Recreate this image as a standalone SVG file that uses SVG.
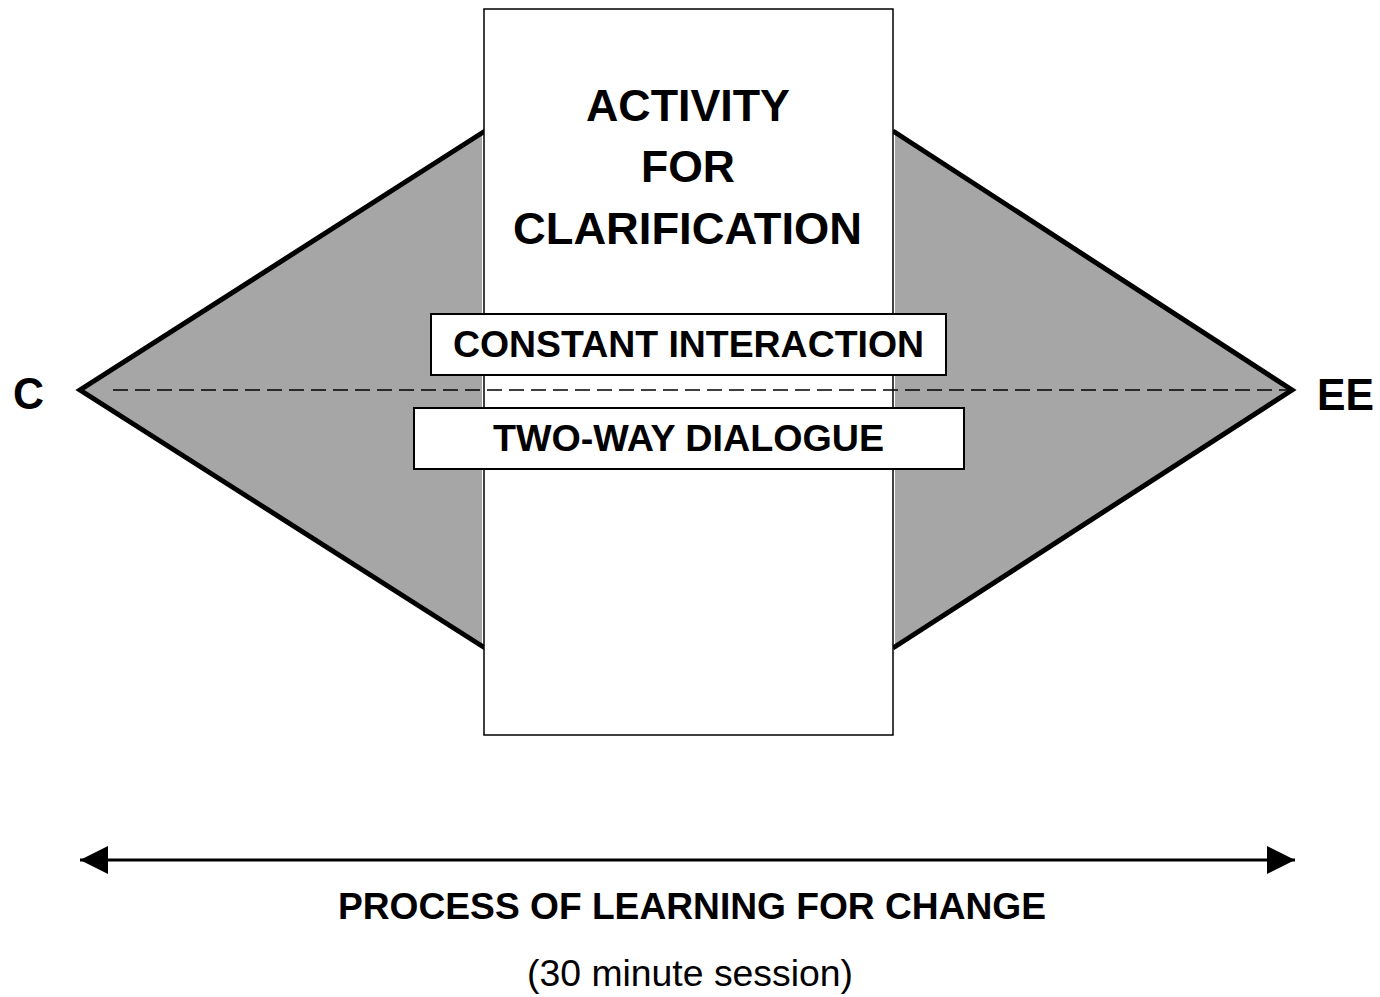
<svg xmlns="http://www.w3.org/2000/svg" width="1380" height="997" viewBox="0 0 1380 997">
<defs>
<style>
.b{font-family:"Liberation Sans",Arial,sans-serif;font-weight:bold;fill:#000}
.r{font-family:"Liberation Sans",Arial,sans-serif;fill:#000}
.edge{stroke:#000;stroke-width:5;stroke-linecap:butt;fill:none}
.box{fill:#fff;stroke:#000;stroke-width:2}
</style>
<marker id="ah" viewBox="0 0 28 28" refX="28" refY="14" markerWidth="28" markerHeight="28" markerUnits="userSpaceOnUse" orient="auto-start-reverse">
<path d="M0,0 L28,14 L0,28 Z" fill="#000"/>
</marker>
</defs>
<rect width="1380" height="997" fill="#fff"/>
<g id="left-triangle">
<polygon points="80,390 482,131 482,648" fill="#a6a6a6"/>
<polyline class="edge" points="485,131 80,390 485,648"/>
</g>
<g id="right-triangle">
<polygon points="1292,390 895,131 895,648" fill="#a6a6a6"/>
<polyline class="edge" points="893,131 1292,390 893,648"/>
</g>
<g id="activity">
<rect x="484" y="9" width="409" height="726" fill="#fff" stroke="#000" stroke-width="1.5"/>
<text class="b" x="586" y="121" font-size="45" textLength="204" lengthAdjust="spacingAndGlyphs">ACTIVITY</text>
<text class="b" x="641" y="182" font-size="45" textLength="94" lengthAdjust="spacingAndGlyphs">FOR</text>
<text class="b" x="513" y="244" font-size="45" textLength="349" lengthAdjust="spacingAndGlyphs">CLARIFICATION</text>
</g>
<g id="connectors">
<line x1="113" y1="390" x2="1290" y2="390" stroke="#000" stroke-width="1.5" stroke-dasharray="15,7"/>
<line x1="80" y1="860" x2="1295" y2="860" stroke="#000" stroke-width="3" marker-start="url(#ah)" marker-end="url(#ah)"/>
</g>
<g id="constant-interaction">
<rect class="box" x="431" y="314" width="515" height="61"/>
<text class="b" x="453" y="357" font-size="36" textLength="471" lengthAdjust="spacingAndGlyphs">CONSTANT INTERACTION</text>
</g>
<g id="two-way-dialogue">
<rect class="box" x="414" y="408" width="550" height="61"/>
<text class="b" x="493" y="451" font-size="37" textLength="391" lengthAdjust="spacingAndGlyphs">TWO-WAY DIALOGUE</text>
</g>
<g id="c-label"><text class="b" x="13" y="409" font-size="44" textLength="31" lengthAdjust="spacingAndGlyphs">C</text></g>
<g id="ee-label"><text class="b" x="1317" y="410" font-size="44" textLength="57" lengthAdjust="spacingAndGlyphs">EE</text></g>
<g id="process-label">
<text class="b" x="338" y="919" font-size="36" textLength="708" lengthAdjust="spacingAndGlyphs">PROCESS OF LEARNING FOR CHANGE</text>
<text class="r" x="527" y="986" font-size="36" textLength="326" lengthAdjust="spacingAndGlyphs">(30 minute session)</text>
</g>
</svg>
